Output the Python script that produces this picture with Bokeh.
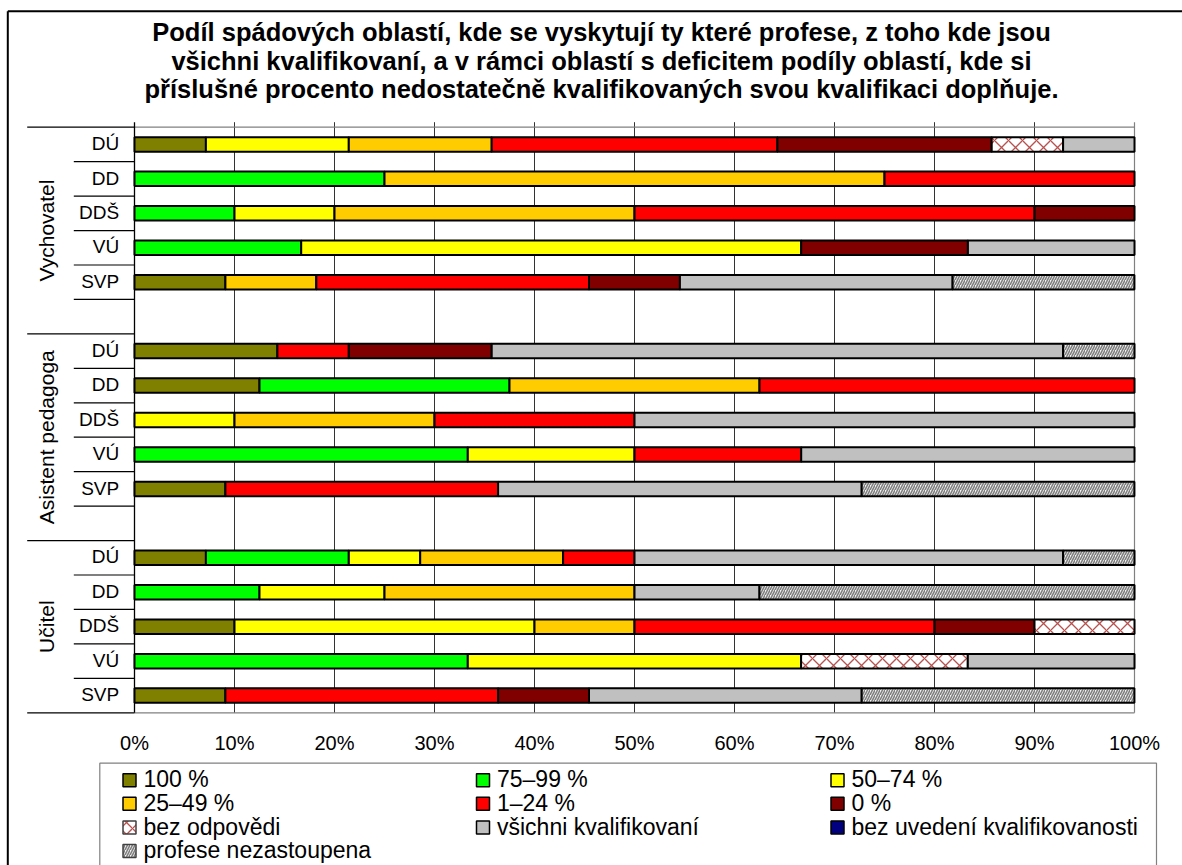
import math
from bokeh.plotting import figure
from bokeh.models import Range1d
from bokeh.core.properties import value
from bokeh.embed import file_html
from bokeh.resources import INLINE

# ---------------- data ----------------
title_lines = [
    "Podíl spádových oblastí, kde se vyskytují ty které profese, z toho kde jsou",
    "všichni kvalifikovaní, a v rámci oblastí s deficitem podíly oblastí, kde si",
    "příslušné procento nedostatečně kvalifikovaných svou kvalifikaci doplňuje.",
]
groups = ["Vychovatel", "Asistent pedagoga", "Učitel"]
subcats = ["DÚ", "DD", "DDŠ", "VÚ", "SVP"]

series_names = ["100 %", "75–99 %", "50–74 %", "25–49 %", "1–24 %", "0 %",
                "bez odpovědi", "všichni kvalifikovaní",
                "bez uvedení kvalifikovanosti", "profese nezastoupena"]

# rows: Vychovatel (DÚ, DD, DDŠ, VÚ, SVP), Asistent pedagoga (...), Učitel (...)
s_100 = [7.14, 0, 0, 0, 9.09, 14.29, 12.5, 0, 0, 9.09, 7.14, 0, 10, 0, 9.09]
s_75_99 = [0, 25, 10, 16.67, 0, 0, 25, 0, 33.33, 0, 14.29, 12.5, 0, 33.33, 0]
s_50_74 = [14.29, 0, 10, 50, 0, 0, 0, 10, 16.67, 0, 7.14, 12.5, 30, 33.33, 0]
s_25_49 = [14.29, 50, 30, 0, 9.09, 0, 25, 20, 0, 0, 14.29, 25, 10, 0, 0]
s_1_24 = [28.57, 25, 40, 0, 27.27, 7.14, 37.5, 20, 16.67, 27.27, 7.14, 0, 30, 0, 27.27]
s_0 = [21.43, 0, 10, 16.67, 9.09, 14.29, 0, 0, 0, 0, 0, 0, 10, 0, 9.09]
s_bez_odpovedi = [7.14, 0, 0, 0, 0, 0, 0, 0, 0, 0, 0, 0, 10, 16.67, 0]
s_vsichni = [7.14, 0, 0, 16.67, 27.27, 57.14, 0, 50, 33.33, 36.36, 42.86, 12.5, 0, 16.67, 27.27]
s_bez_uvedeni = [0, 0, 0, 0, 0, 0, 0, 0, 0, 0, 0, 0, 0, 0, 0]
s_nezastoupena = [0, 0, 0, 0, 18.18, 7.14, 0, 0, 0, 27.27, 7.14, 37.5, 0, 0, 27.27]

series_values = [s_100, s_75_99, s_50_74, s_25_49, s_1_24, s_0,
                 s_bez_odpovedi, s_vsichni, s_bez_uvedeni, s_nezastoupena]

x_ticks = [0, 10, 20, 30, 40, 50, 60, 70, 80, 90, 100]
x_tick_labels = ["0%", "10%", "20%", "30%", "40%", "50%", "60%", "70%", "80%", "90%", "100%"]

# ---------------- styles ----------------
fills = ["#808000", "#00FF00", "#FFFF00", "#FFCC00", "#FF0000", "#800000",
         "#FFFFFF", "#C0C0C0", "#000080", "#F4F4F4"]
hatch = [None, None, None, None, None, None, "x", None, None, "/"]
hatch_cols = [None] * 6 + ["#B8504D", None, None, "#7F7F7F"]
hatch_scales = [None] * 6 + [14, None, None, 5]
hatch_weights = [None] * 6 + [1.3, None, None, 1.6]

FONT = value("Liberation Sans")
W, H = 1182, 865


def X(px):
    # picture pixel -> value-axis units (0% at 134 px, 100% at 1134 px)
    return (px - 134.0) / 10.0


p = figure(width=W, height=H, x_range=Range1d(X(0), X(W)),
           y_range=Range1d(H, 0), output_backend="svg",
           toolbar_location=None, min_border=0,
           x_axis_location=None, y_axis_location=None)
p.grid.visible = False
p.outline_line_color = None
p.background_fill_color = "white"
p.border_fill_color = "white"

TOP, BOT = 126.7, 712.3
NROWS = 17
PITCH = (BOT - TOP) / NROWS
row_k = [g * 6 + s for g in range(len(groups)) for s in range(len(subcats))]
row_y = [TOP + (k + 0.5) * PITCH for k in row_k]

# outer chart border (left and top visible in the picture)
p.segment(x0=[X(7.3), X(7.3)], y0=[10.7, 10.7], x1=[X(7.3), X(W)], y1=[H, 10.7],
          line_color="black", line_width=2)

# title
p.text(x=[X(601)] * 3, y=[31.3, 60.0, 88.7], text=title_lines, text_font=FONT,
       text_font_style="bold", text_font_size="25.5px", text_align="center",
       text_baseline="middle", text_color="black")

# vertical gridlines / ticks
grid_x = [t for t in x_ticks if 0 < t < 100]
p.segment(x0=grid_x, x1=grid_x, y0=[121.7] * len(grid_x), y1=[BOT] * len(grid_x),
          line_color="#333333", line_width=1)
# plot-area border (top, right, bottom)
p.segment(x0=[0, 100, 0], x1=[100, 100, 100], y0=[TOP, 121.7, BOT], y1=[TOP, BOT, BOT],
          line_color="#808080", line_width=1.2)
# category axis line
p.segment(x0=[0], x1=[0], y0=[121.7], y1=[BOT], line_color="black", line_width=1.3)

# category separators
long_k = [0, 6, 12, 17]
short_k = [k for k in range(1, NROWS) if k not in long_k]
p.segment(x0=[X(26.7)] * len(long_k), x1=[0] * len(long_k),
          y0=[TOP + k * PITCH for k in long_k], y1=[TOP + k * PITCH for k in long_k],
          line_color="black", line_width=1.2)
p.segment(x0=[X(73.3)] * len(short_k), x1=[0] * len(short_k),
          y0=[TOP + k * PITCH for k in short_k], y1=[TOP + k * PITCH for k in short_k],
          line_color="black", line_width=1.2)

# stacked bars
cum = [0.0] * len(row_y)
for i, vals in enumerate(series_values):
    ys, ls, rs = [], [], []
    for j, v in enumerate(vals):
        if v > 0:
            ys.append(row_y[j]); ls.append(cum[j]); rs.append(min(cum[j] + v, 100.0))
        cum[j] += v
    if not ys:
        continue
    kw = dict(fill_color=fills[i], line_color="black", line_width=2)
    if hatch[i]:
        kw.update(hatch_pattern=hatch[i], hatch_color=hatch_cols[i],
                  hatch_scale=hatch_scales[i], hatch_weight=hatch_weights[i])
    p.hbar(y=ys, left=ls, right=rs, height=14.5, **kw)

# category labels
p.text(x=[X(118.7)] * len(row_y), y=[y - 0.8 for y in row_y],
       text=subcats * len(groups), text_font=FONT, text_font_size="19px",
       text_align="right", text_baseline="middle", text_color="black")

# group labels (rotated)
g_centers = []
for g in range(len(groups)):
    k0, k1 = g * 6, min(g * 6 + 6, NROWS)
    g_centers.append(TOP + (k0 + k1) / 2.0 * PITCH)
p.text(x=[X(45.5)] * len(groups), y=g_centers, text=groups, angle=math.pi / 2,
       text_font=FONT, text_font_size="21px", text_align="center",
       text_baseline="middle", text_color="black")

# value-axis tick labels
p.text(x=x_ticks, y=[742.7] * len(x_ticks), text=x_tick_labels, text_font=FONT,
       text_font_size="20px", text_align="center", text_baseline="middle",
       text_color="black")

# legend box
p.quad(left=[X(99.3)], right=[X(1156)], top=[762.7], bottom=[H + 20],
       fill_color=None, line_color="#808080", line_width=1.2)
col_left = [122.0, 475.5, 830.0]
ROW0, RSTEP = 779.7, 23.6
for i, name in enumerate(series_names):
    c, r = i % 3, i // 3
    cx = X(col_left[c] + 7)
    cy = ROW0 + r * RSTEP
    kw = dict(fill_color=fills[i], line_color="black", line_width=1.5)
    if hatch[i]:
        kw.update(hatch_pattern=hatch[i], hatch_color=hatch_cols[i],
                  hatch_scale=(12 if hatch[i] == "x" else 5), hatch_weight=hatch_weights[i])
        kw["line_color"] = "#404040"
    p.rect(x=[cx], y=[cy], width=13, height=13, width_units="screen",
           height_units="screen", **kw)
    p.text(x=[X(col_left[c] + 21)], y=[cy - 0.8], text=[name], text_font=FONT,
           text_font_size="23px", text_align="left", text_baseline="middle",
           text_color="black")

open("out.html", "w").write(file_html(p, INLINE))
